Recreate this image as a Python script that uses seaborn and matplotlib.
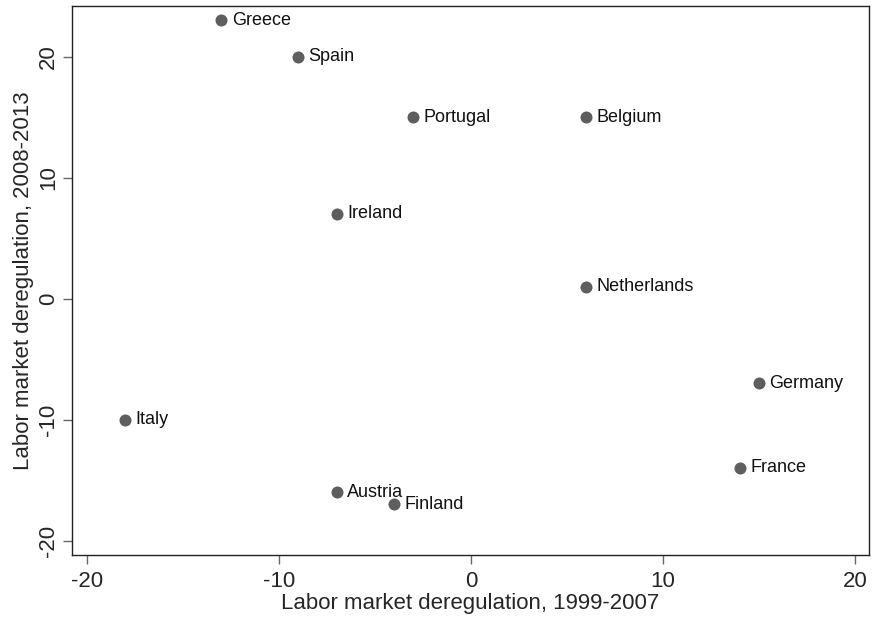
import pandas as pd
import seaborn as sns
import matplotlib.pyplot as plt

countries = ['Greece', 'Spain', 'Portugal', 'Belgium', 'Ireland', 'Netherlands',
             'Germany', 'Italy', 'France', 'Austria', 'Finland']
dereg_1999_2007 = [-13, -9, -3, 6, -7, 6, 15, -18, 14, -7, -4]
dereg_2008_2013 = [23, 20, 15, 15, 7, 1, -7, -10, -14, -16, -17]

df = pd.DataFrame({'country': countries, 'x': dereg_1999_2007, 'y': dereg_2008_2013})

sns.set_style("white")
plt.rcParams['font.family'] = ['Liberation Sans', 'DejaVu Sans']
plt.rcParams['axes.unicode_minus'] = False

fig = plt.figure(figsize=(8.74, 6.23), dpi=100)
ax = fig.add_axes([0.0824, 0.1091, 0.912, 0.8813])

sns.scatterplot(data=df, x='x', y='y', ax=ax, color='#5e5e5e', s=75,
                edgecolor='#5e5e5e', linewidth=0, zorder=3)

# country names to the right of each dot
for _, r in df.iterrows():
    ax.annotate(r['country'], (r['x'], r['y']), xytext=(7.5, 0), textcoords='offset points',
                va='center', ha='left', fontsize=13, color='#111111')

ax.set_xlim(-20.78, 20.73)
ax.set_ylim(-21.2, 24.2)
ax.set_xticks([-20, -10, 0, 10, 20])
ax.set_yticks([-20, -10, 0, 10, 20])
ax.tick_params(axis='both', direction='out', length=6.5, width=1, color='#666666',
               labelsize=16, bottom=True, left=True)
ax.tick_params(axis='x', pad=5)
ax.tick_params(axis='y', pad=3)
for lab in ax.get_yticklabels():
    lab.set_rotation(90)
    lab.set_va('center')

for sp in ax.spines.values():
    sp.set_visible(True)
    sp.set_color('#222222')
    sp.set_linewidth(1.0)

ax.set_xlabel('Labor market deregulation, 1999-2007', fontsize=16, labelpad=1)
ax.set_ylabel('Labor market deregulation, 2008-2013', fontsize=16, labelpad=3)

fig.savefig('out.png', dpi=100)
